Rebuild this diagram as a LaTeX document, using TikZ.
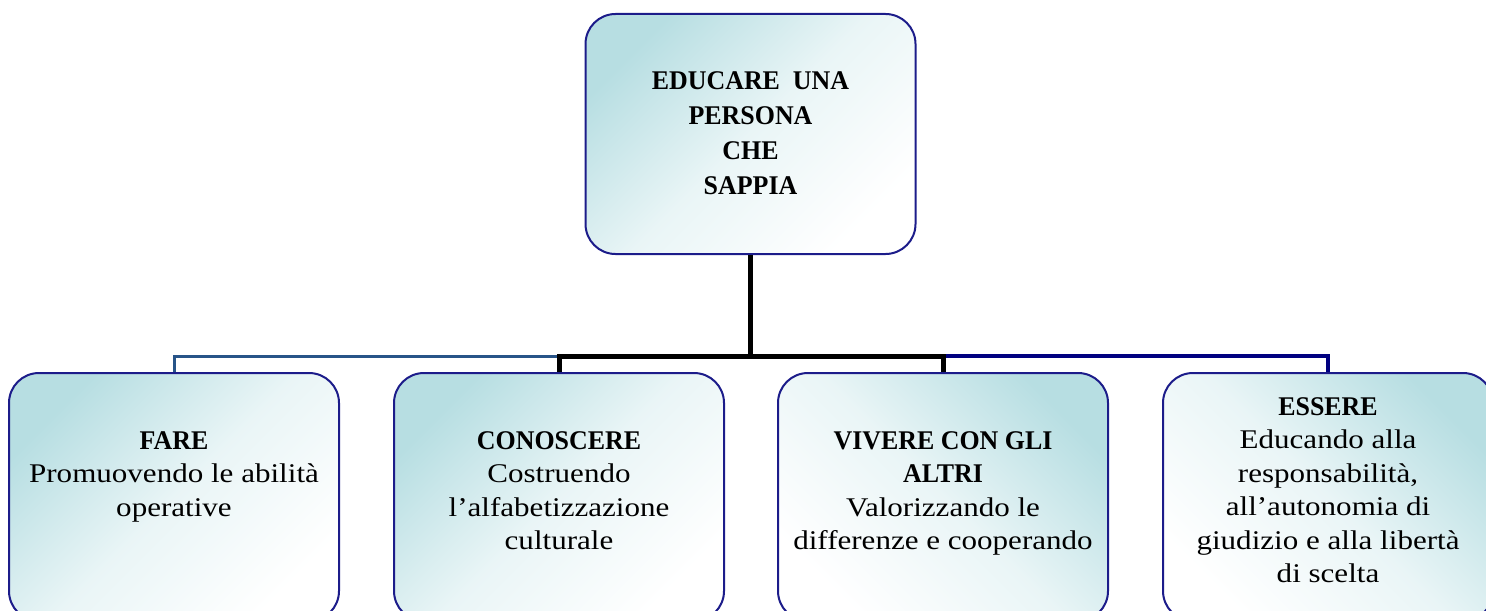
\documentclass[tikz,border=0pt]{standalone}
\usepackage{fontspec}
\setmainfont{Liberation Serif}[UprightFeatures={FakeStretch=1.15}, BoldFeatures={FakeStretch=0.96}]
\usetikzlibrary{positioning}

\definecolor{boxteal}{RGB}{183,222,226}
\definecolor{boxborder}{RGB}{28,28,138}
\definecolor{linksteel}{RGB}{40,84,136}
\definecolor{linknavy}{RGB}{0,0,128}

\tikzset{
  box/.style={draw=boxborder, line width=1pt, rounded corners=15pt,
    minimum width=165pt, minimum height=124pt, inner sep=0pt,
    top color=boxteal, bottom color=white, middle color=boxteal!30!white,
    shading angle=45},
  boxr/.style={box, shading angle=-45},
  txt/.style={align=center, inner sep=0pt, font=\fontsize{13.5}{16.75}\selectfont},
  link/.style={line width=2.5pt, black},
}

\begin{document}
\begin{tikzpicture}[x=0.5pt, y=-0.5pt]
    \clip (0,0) rectangle (1486,610);

    % Nodo principale
    \node[box, minimum height=120pt] (top) at (750.5,134) {};
    \node[txt, font=\fontsize{13.5}{17.5}\selectfont\bfseries, below=29pt of top.north] (top-t)
        {EDUCARE\ \ UNA\\PERSONA\\CHE\\SAPPIA};

    % Le quattro dimensioni
    \node[box] (fare) at (174,497) {};
    \node[box] (conoscere) at (559,497) {};
    \node[boxr] (vivere) at (943,497) {};
    \node[boxr] (essere) at (1328,497) {};

    \node[txt, below=29.5pt of fare.north] (fare-t)
        {\textbf{FARE}\\Promuovendo le abilità\\operative};
    \node[txt, below=29.5pt of conoscere.north] (conoscere-t)
        {\textbf{CONOSCERE}\\Costruendo\\l’alfabetizzazione\\culturale};
    \node[txt, below=29.5pt of vivere.north] (vivere-t)
        {\textbf{VIVERE CON GLI}\\\textbf{ALTRI}\\Valorizzando le\\differenze e cooperando};
    \node[txt, below=12.5pt of essere.north] (essere-t)
        {\textbf{ESSERE}\\Educando alla\\responsabilità,\\all’autonomia di\\giudizio e alla libertà\\di scelta};

    % Collegamenti
    \path (top.south) ++(0,101) coordinate (bus);
    \draw[line width=1.5pt, linksteel] (bus -| conoscere.north) -| (fare.north);
    \draw[line width=2pt, linknavy] (bus) -| (essere.north);
    \draw[link] (top.south) -- (bus) -| (conoscere.north);
    \draw[link] (bus) -| (vivere.north);
\end{tikzpicture}
\end{document}
